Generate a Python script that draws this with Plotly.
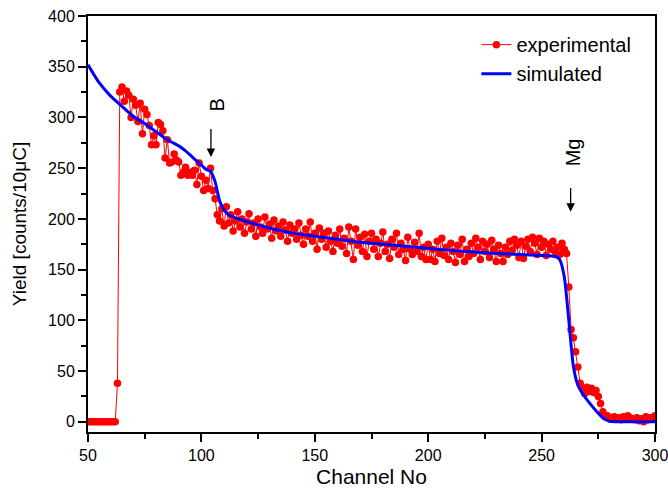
import plotly.graph_objects as go

# ---- data ----
exp_start = 50
exp_values = [
    0, 0, 0, 0, 0, 0, 0, 0, 0, 0, 0, 0, 0,            # 50-62
    38,                                               # 63
    325, 330, 316, 326, 322, 300, 318, 312, 296, 314,  # 64-73
    284, 308, 303, 292, 273, 282, 273, 295, 293, 287,  # 74-83
    260, 278, 255, 256, 264, 258, 256, 243, 246, 251,  # 84-93
    243, 246, 243, 248, 234, 255, 242, 228, 238, 230,  # 94-103
    250, 228, 220, 204, 198, 210, 193,                 # 104-110
    212, 196, 204, 188, 198, 207, 192, 200, 186, 197,  # 111-120
    205, 190, 196, 183, 200, 192, 186, 202, 190, 195,  # 121-130
    181, 199, 188, 193, 183, 197, 189, 178, 194, 186,  # 131-140
    190, 180, 196, 184, 175, 190, 183, 197, 178, 186,  # 141-150
    170, 191, 180, 186, 172, 188, 178, 168, 184, 176,  # 151-160
    190, 173, 181, 166, 192, 178, 160, 190, 174, 182,  # 161-170
    168, 185, 163, 178, 186, 170, 180, 163, 176, 187,  # 171-180
    168, 175, 161, 180, 172, 186, 165, 176, 170, 159,  # 181-190
    182, 170, 165, 177, 168, 186, 163, 172, 160, 175,  # 191-200
    160, 170, 158, 178, 166, 181, 164, 172, 160, 176,  # 201-210
    168, 157, 174, 165, 180, 158, 170, 163, 176, 166,  # 211-220
    181, 172, 160, 178, 168, 175, 162, 179, 170, 158,  # 221-230
    174, 166, 158, 172, 165, 178, 169, 180, 174, 162,  # 231-240
    178, 161, 173, 180, 168, 182, 176, 165, 181, 172,  # 241-250
    178, 164, 175, 170, 178, 168, 172, 165, 176, 170,  # 251-260
    166, 133, 91, 83, 69, 54, 38, 33, 28, 34,          # 261-270
    30, 33, 29, 31, 25, 18, 10, 5, 6, 3,               # 271-280
    4, 5, 3, 4, 2, 5, 3, 6, 4, 3,                      # 281-290
    2, 4, 1, 3, 0, 5, 2, 4, 3, 6,                      # 291-300
]
exp_channels = list(range(exp_start, exp_start + len(exp_values)))

sim_channels = [50, 55, 60, 65, 70, 75, 80, 85, 90, 93, 96, 99, 102, 104, 106,
                108, 110, 112, 115, 122, 130, 140, 150, 160, 170, 180, 190, 200,
                210, 220, 230, 240, 250, 256, 258, 260, 262, 264, 266, 268, 271,
                274, 277, 280, 285, 290, 295, 300]
sim_values = [352, 334, 321, 311, 301, 294, 286, 278, 272, 267, 261, 255, 249, 247, 237,
              218, 209, 204, 201, 196, 191, 186, 183, 180, 177, 175, 173, 171,
              169, 167.5, 166, 165, 164, 163, 160, 143, 100, 55, 36, 28, 19,
              11, 4, 0.5, 0, 0, 0, 0]

x_ticks = [50, 100, 150, 200, 250, 300]
y_ticks = [0, 50, 100, 150, 200, 250, 300, 350, 400]

labels = [
    # text, label x, label y, arrow x, arrow top, arrow tip
    ("B", 107, 312, 104.2, 290, 261),
    ("Mg", 264, 266, 262.8, 232, 207),
]

FONT = "Liberation Sans, Arial, sans-serif"

fig = go.Figure()
fig.add_trace(go.Scatter(
    x=exp_channels, y=exp_values, name="experimental", mode="lines+markers",
    line=dict(color="#ff0000", width=1),
    marker=dict(color="#ff0000", size=7.5),
))
fig.add_trace(go.Scatter(
    x=sim_channels, y=sim_values, name="simulated", mode="lines",
    line=dict(color="#0000ff", width=3, shape="spline", smoothing=0.6),
))

for text, lx, ly, axx, atop, atip in labels:
    fig.add_annotation(x=lx, y=ly, text=text, showarrow=False, textangle=-90,
                       font=dict(size=20, color="black", family=FONT))
    fig.add_annotation(x=axx, y=atip, ax=axx, ay=atop, axref="x", ayref="y",
                       text="", showarrow=True, arrowhead=2, arrowsize=1.3,
                       arrowwidth=1.3, arrowcolor="black")

axis_common = dict(
    showline=True, linecolor="black", linewidth=2, mirror=True,
    ticks="outside", ticklen=8, tickwidth=1.5, tickcolor="black",
    showgrid=False, zeroline=False, automargin=False,
    ticklabeloverflow="allow",
    tickfont=dict(size=16, color="black", family=FONT),
    minor=dict(ticks="outside", ticklen=5, tickwidth=1.5, tickcolor="black", dtick=25),
)

fig.update_xaxes(range=[50, 300], tickvals=x_ticks,
                 title=dict(text="Channel No", font=dict(size=21, color="black", family=FONT), standoff=6),
                 **axis_common)
fig.update_yaxes(range=[-10, 400], tickvals=y_ticks,
                 title=dict(text="Yield [counts/10μC]", font=dict(size=19, color="black", family=FONT), standoff=16),
                 **axis_common)

fig.update_layout(
    width=668, height=491,
    margin=dict(l=88, r=13, t=16, b=59),
    paper_bgcolor="white", plot_bgcolor="white",
    font=dict(family=FONT, color="black"),
    legend=dict(x=0.685, y=0.978, xanchor="left", yanchor="top",
                bgcolor="rgba(0,0,0,0)", font=dict(size=20, color="black", family=FONT),
                tracegroupgap=0, itemwidth=30),
    showlegend=True,
)

# remove the default page margin so the figure fills the window exactly
fig.write_html("out.html",
               config={"displayModeBar": False},
               post_script="document.body.style.margin='0';document.body.style.overflow='hidden';")
